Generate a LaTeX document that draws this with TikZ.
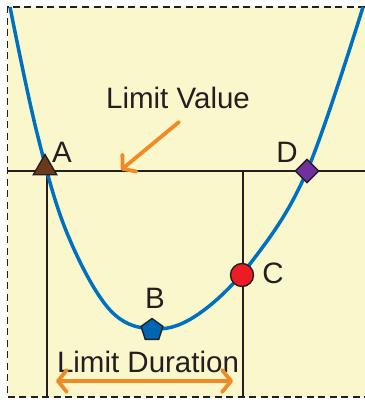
\documentclass[tikz,border=0pt]{standalone}
\usepackage{fontspec}
\setmainfont{Liberation Sans}
\usetikzlibrary{arrows.meta,shapes.geometric}
\definecolor{bgy}{HTML}{FBF7CC}
\definecolor{ink}{HTML}{231F20}
\definecolor{cblue}{HTML}{0070C0}
\definecolor{pblue}{HTML}{0066B3}
\definecolor{obr}{HTML}{6B3A1A}
\definecolor{dpur}{HTML}{7030A0}
\definecolor{cred}{HTML}{ED1C24}
\definecolor{orng}{HTML}{F08A24}
\tikzset{
  frame/.style={ink, line width=1.8pt, dash pattern=on 7pt off 4.5pt},
  guide/.style={ink, line width=1.8pt},
  curve/.style={cblue, line width=3.5pt},
  marker/.style={draw=ink, line width=1.4pt, inner sep=0pt},
  lbl/.style={text=ink, font=\fontsize{29.5}{35}\selectfont, anchor=base, inner sep=0pt},
  oarrow/.style={orng, line width=3.8pt, line cap=round},
  obarb/.tip={Straight Barb[length=9pt,width=22pt,round]},
}
\begin{document}
\begin{tikzpicture}[x=1pt,y=-1pt]
\useasboundingbox (0,0) rectangle (365,400);
\fill[bgy] (7.5,7) rectangle (365,397);
\draw[frame] (365,7) -- (7.5,7) -- (7.5,397) -- (365,397);
% guide lines
\coordinate (hl) at (7.5,171);
\coordinate (hr) at (365,171);
\coordinate (v1t) at (47,171);
\coordinate (v1b) at (47,397);
\coordinate (v2t) at (243,171);
\coordinate (v2b) at (243,397);
\draw[guide] (hl) -- (hr);
\draw[guide] (v1t) -- (v1b);
\draw[guide] (v2t) -- (v2b);
% curve
\draw[curve] plot[smooth, tension=0.6] coordinates {(10,7) (37,133) (67,233) (110,310) (155,329) (200,313) (253,260) (307,171) (363,7)};
% markers
\node[marker, regular polygon, regular polygon sides=3, minimum size=27pt, fill=obr] (A) at (45,168) {};
\node[marker, regular polygon, regular polygon sides=5, minimum size=23pt, fill=pblue] (B) at (152,330) {};
\node[marker, circle, minimum size=23pt, fill=cred] (C) at (242,275) {};
\node[marker, diamond, minimum width=24pt, minimum height=24pt, fill=dpur] (D) at (307,171) {};
% labels
\node[lbl] (tA) at (62,162) {A};
\node[lbl] (tB) at (155,308) {B};
\node[lbl] (tC) at (273,283) {C};
\node[lbl] (tD) at (287,162) {D};
\node[lbl] (tLV) at (178,108) {Limit Value};
\node[lbl] (tLD) at (148,372) {Limit Duration};
% orange arrows
\coordinate (lvs) at (179,122);
\coordinate (lve) at (121,170);
\draw[oarrow, -obarb] (lvs) -- (lve);
\coordinate (ldl) at (56,381);
\coordinate (ldr) at (233,381);
\draw[oarrow, obarb-obarb] (ldl) -- (ldr);
\end{tikzpicture}
\end{document}
